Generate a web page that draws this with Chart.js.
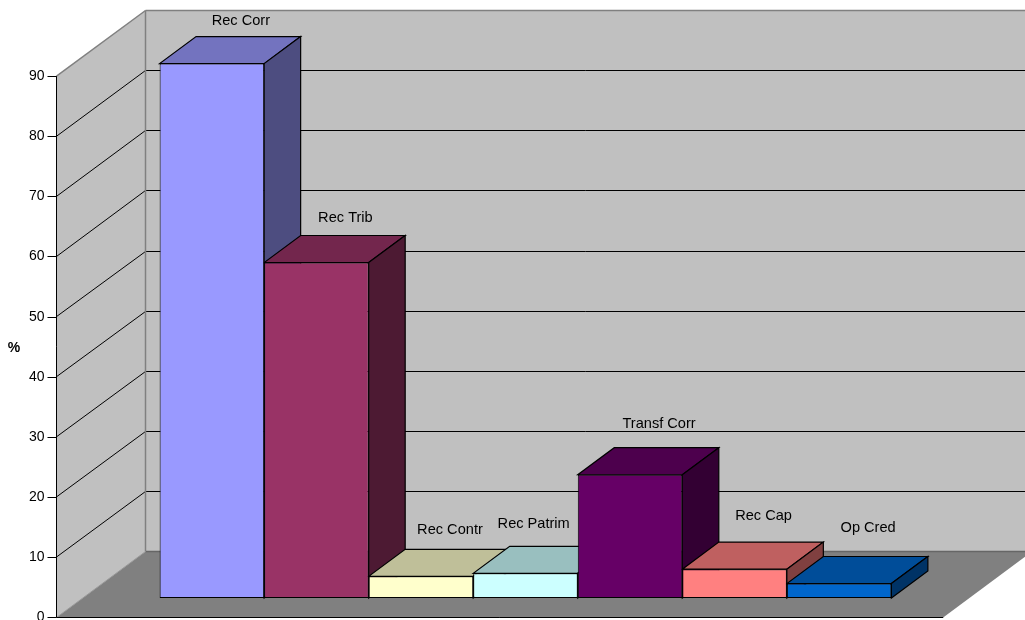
<!DOCTYPE html>
<html>
<head>
<meta charset="utf-8">
<script src="https://cdn.jsdelivr.net/npm/chart.js@4.4.0/dist/chart.umd.min.js"></script>
<style>
  html, body { margin: 0; padding: 0; background: #fff; }
  #wrap { width: 1025px; height: 620px; }
</style>
</head>
<body>
<div id="wrap"><canvas id="chart" width="1025" height="620"></canvas></div>
<script>
// Revenue share by source (%), one category split into seven series
const seriesNames  = ['Rec Corr', 'Rec Trib', 'Rec Contr', 'Rec Patrim', 'Transf Corr', 'Rec Cap', 'Op Cred'];
const seriesValues = [88.9, 55.8, 3.6, 4.1, 20.5, 4.8, 2.4];
const yTicks       = [0, 10, 20, 30, 40, 50, 60, 70, 80, 90];
const seriesColors = ['#9999ff', '#993366', '#ffffcc', '#ccffff', '#660066', '#ff8080', '#0066cc'];

// 3D box: full depth of the floor, where the bars sit in it
const DEPTH = { x: 89, y: -66 };
const FRONT_GAP = 0.29;
const BAR_DEPTH = 0.41;
const FONT = '"Liberation Sans", Arial, sans-serif';

function shade(hex, f) {
  const n = parseInt(hex.slice(1), 16);
  const r = Math.round(((n >> 16) & 255) * f);
  const g = Math.round(((n >> 8) & 255) * f);
  const b = Math.round((n & 255) * f);
  return `rgb(${r},${g},${b})`;
}

const crisp = v => Math.round(v) + 0.5;

function poly(ctx, pts, fill, stroke, lw) {
  ctx.beginPath();
  ctx.moveTo(pts[0][0], pts[0][1]);
  for (let i = 1; i < pts.length; i++) ctx.lineTo(pts[i][0], pts[i][1]);
  ctx.closePath();
  if (fill) { ctx.fillStyle = fill; ctx.fill(); }
  if (stroke) { ctx.strokeStyle = stroke; ctx.lineWidth = lw || 1; ctx.stroke(); }
}

function line(ctx, x1, y1, x2, y2, color, lw) {
  ctx.beginPath();
  ctx.moveTo(x1, y1);
  ctx.lineTo(x2, y2);
  ctx.strokeStyle = color;
  ctx.lineWidth = lw || 1;
  ctx.stroke();
}

const box3d = {
  id: 'box3d',
  beforeDatasetsDraw(chart) {
    const { ctx, chartArea: a, scales: { y } } = chart;
    const fx = -FRONT_GAP * DEPTH.x, fy = -FRONT_GAP * DEPTH.y;
    const bx = (1 - FRONT_GAP) * DEPTH.x, by = (1 - FRONT_GAP) * DEPTH.y;
    const yMax = yTicks[yTicks.length - 1];
    const top = y.getPixelForValue(yMax), base = y.getPixelForValue(0);

    const fL = crisp(a.left + fx), fR = a.right + fx;
    const bL = crisp(a.left + bx), bR = a.right + bx;
    const fTop = top + fy, fBase = crisp(base + fy);
    const bTop = crisp(top + by), bBase = crisp(base + by);

    ctx.save();
    // walls and floor
    poly(ctx, [[fL, fBase], [fL, fTop], [bL, bTop], [bL, bBase]], '#c0c0c0');
    poly(ctx, [[bL, bTop], [bR, bTop], [bR, bBase], [bL, bBase]], '#c0c0c0');
    poly(ctx, [[fL, fBase], [fR, fBase], [bR, bBase], [bL, bBase]], '#808080');

    // gridlines on side and back wall
    yTicks.slice(1, -1).forEach(v => {
      const yp = y.getPixelForValue(v);
      const yb = crisp(yp + by);
      line(ctx, fL, yp + fy, bL, yb, '#000', 1);
      line(ctx, bL, yb, bR, yb, '#000', 1);
    });

    // wall edges
    line(ctx, fL, fTop, bL, bTop, '#808080', 1.5);
    line(ctx, bL, bTop, bR, bTop, '#808080', 1.5);
    line(ctx, bL, bTop, bL, bBase, '#808080', 1.5);
    line(ctx, bL, bBase, bR, bBase, '#666', 1.5);
    line(ctx, fL, fBase, bL, bBase, '#999', 1);

    // front axes, ticks and labels
    line(ctx, fL, fTop, fL, fBase, '#000', 1);
    line(ctx, fL, fBase, fR, fBase, '#000', 1);
    ctx.font = `14px ${FONT}`;
    ctx.fillStyle = '#000';
    ctx.textAlign = 'right';
    ctx.textBaseline = 'middle';
    yTicks.forEach(v => {
      const yp = crisp(y.getPixelForValue(v) + fy);
      line(ctx, fL - 9, yp, fL, yp, '#000', 1);
      ctx.fillText(String(v), fL - 12, yp);
    });
    ctx.font = `bold 14px ${FONT}`;
    ctx.textAlign = 'center';
    ctx.fillText('%', 14, (fTop + fBase) / 2 + 1);

    // top and side faces of the bars, left to right
    const dx = BAR_DEPTH * DEPTH.x, dy = BAR_DEPTH * DEPTH.y;
    chart.data.datasets.forEach((ds, i) => {
      const el = chart.getDatasetMeta(i).data[0];
      const { x, y: yTop, base: yBase, width } = el.getProps(['x', 'y', 'base', 'width'], true);
      const l = x - width / 2, r = x + width / 2;
      poly(ctx, [[l, yTop], [r, yTop], [r + dx, yTop + dy], [l + dx, yTop + dy]], shade(seriesColors[i], 0.75), '#000', 1.2);
      poly(ctx, [[r, yTop], [r + dx, yTop + dy], [r + dx, yBase + dy], [r, yBase]], shade(seriesColors[i], 0.5), '#000', 1.2);
    });
    ctx.restore();
  },
  // series name above each bar, nudged left when the next bar is in the way
  afterDatasetsDraw(chart) {
    const { ctx, chartArea: a } = chart;
    ctx.save();
    ctx.font = `14.6px ${FONT}`;
    ctx.fillStyle = '#000';
    ctx.textAlign = 'center';
    ctx.textBaseline = 'alphabetic';
    const n = chart.data.datasets.length;
    chart.data.datasets.forEach((ds, i) => {
      const el = chart.getDatasetMeta(i).data[0];
      const w = ctx.measureText(ds.label).width;
      let cx = el.x + 29;
      const by = el.y - (36 + 0.02 * (el.x - a.left));
      if (i < n - 1) {
        const next = chart.getDatasetMeta(i + 1).data[0];
        const nextLeft = next.x - next.width / 2;
        if (next.y < by && cx + w / 2 > nextLeft - 8) cx = nextLeft - 8 - w / 2;
      }
      ctx.fillText(ds.label, cx, by);
    });
    ctx.restore();
  }
};

new Chart(document.getElementById('chart'), {
  type: 'bar',
  data: {
    labels: [''],
    datasets: seriesNames.map((name, i) => ({
      label: name,
      data: [seriesValues[i]],
      backgroundColor: seriesColors[i],
      borderColor: '#000',
      borderWidth: 1,
      borderSkipped: false,
      categoryPercentage: 0.825,
      barPercentage: 1
    }))
  },
  options: {
    responsive: false,
    animation: false,
    events: [],
    layout: { padding: { left: 82, right: 56, top: 57, bottom: 22 } },
    plugins: { legend: { display: false }, tooltip: { enabled: false } },
    scales: {
      x: { display: false },
      y: { display: false, min: 0, max: 90 }
    }
  },
  plugins: [box3d]
});
</script>
</body>
</html>
